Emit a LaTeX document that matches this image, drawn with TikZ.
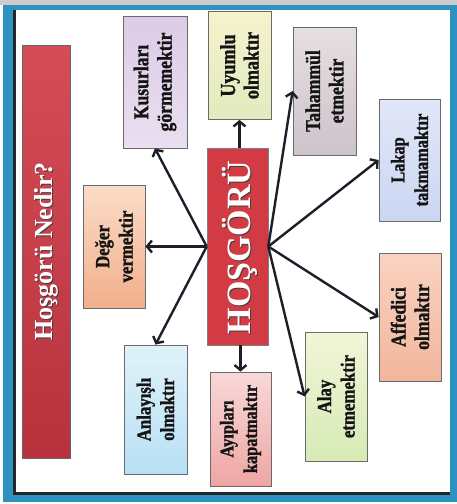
\documentclass[tikz,border=0pt]{standalone}
\usepackage{fontspec}
\setmainfont{Liberation Serif}
\newfontfamily\condfont{Liberation Serif}[FakeStretch=0.84,FakeBold=1.2]
\usetikzlibrary{arrows.meta}
\definecolor{framecol}{HTML}{2E92C0}
\definecolor{arrowcol}{HTML}{1E1E2A}
\definecolor{boxline}{HTML}{6A6A6A}
\definecolor{txtcol}{HTML}{141414}
\definecolor{kusL}{HTML}{DCCBE6}\definecolor{kusR}{HTML}{E9DFF0}
\definecolor{uyuL}{HTML}{F7F2CC}\definecolor{uyuR}{HTML}{E0EBBE}
\definecolor{tahL}{HTML}{E6DFE2}\definecolor{tahR}{HTML}{CDC3CB}
\definecolor{lakL}{HTML}{E1E7F7}\definecolor{lakR}{HTML}{CBD6F3}
\definecolor{degL}{HTML}{FBDDC8}\definecolor{degR}{HTML}{F2AE8C}
\definecolor{affL}{HTML}{F9D3C0}\definecolor{affR}{HTML}{F3B59C}
\definecolor{anlL}{HTML}{E0F2F9}\definecolor{anlR}{HTML}{B7E0F5}
\definecolor{ayiL}{HTML}{F8D8D8}\definecolor{ayiR}{HTML}{EEA6A4}
\definecolor{alaL}{HTML}{F2F5D6}\definecolor{alaR}{HTML}{D6EBB6}
\definecolor{redL}{HTML}{D44C56}\definecolor{redR}{HTML}{B8323E}
\definecolor{hosred}{HTML}{D23A44}
\definecolor{shadowcol}{HTML}{4A3A3A}
\newcommand{\boxtxt}[1]{\condfont\fontsize{#1}{23.5}\selectfont\bfseries}
\begin{document}
\begin{tikzpicture}[x=1pt,y=-1pt,
  box/.style={draw=boxline, line width=0.8pt, rotate=90, inner sep=0pt,
    align=center, text=txtcol},
  arr/.style={-{Straight Barb[length=5pt,width=12pt]}, line width=2.4pt, draw=arrowcol},
  whitetxt/.style={rotate=90, inner sep=0pt, text=white},
  shadowtxt/.style={rotate=90, inner sep=0pt, text=shadowcol}]
\useasboundingbox (0,0) rectangle (457,504);
% background and frame
\fill[white] (0,0) rectangle (457,504);
\fill[black!20] (0,0) rectangle (457,5);
\fill[framecol] (3,5) rectangle (457,502);
\fill[white] (16,10) rectangle (450,492);
\fill[black!85] (13,10) rectangle (16,495);
\fill[black!85] (13,492) rectangle (450,495);
% title
\node[draw=black!60, line width=0.6pt, rotate=90, top color=redL, bottom color=redR,
  minimum width=413pt, minimum height=48pt] (title) at (46,251.5) {};
\node[shadowtxt, font=\fontsize{26}{30}\selectfont\bfseries] (titleS) at (47,252.5) {Hoşgörü Nedir?};
\node[whitetxt, font=\fontsize{26}{30}\selectfont\bfseries] (titleT) at (46,251.5) {Hoşgörü Nedir?};
% centre
\node[draw=black!50, line width=0.6pt, rotate=90, fill=hosred,
  minimum width=197pt, minimum height=61pt] (hos) at (237.5,246.5) {};
\node[shadowtxt, font=\fontsize{34}{40}\selectfont\bfseries] (hosS) at (240.5,248.5) {HOŞGÖRÜ};
\node[whitetxt, font=\fontsize{34}{40}\selectfont\bfseries] (hosT) at (239.5,247.5) {HOŞGÖRÜ};
% boxes
\node[box, font=\boxtxt{21}, top color=kusL, bottom color=kusR, minimum width=132pt, minimum height=64pt] (kus) at (155,82) {Kusurları\\görmemektir};
\node[box, font=\boxtxt{21.5}, top color=uyuL, bottom color=uyuR, minimum width=108pt, minimum height=63pt] (uyu) at (239.5,65.5) {Uyumlu\\olmaktır};
\node[box, font=\boxtxt{21}, top color=tahL, bottom color=tahR, minimum width=128pt, minimum height=63pt] (tah) at (324.5,91) {Tahammül\\etmektir};
\node[box, font=\boxtxt{19.5}, top color=lakL, bottom color=lakR, minimum width=122pt, minimum height=61pt] (lak) at (409.5,160) {Lakap\\takmamaktır};
\node[box, font=\boxtxt{20}, top color=degL, bottom color=degR, minimum width=123pt, minimum height=62pt] (deg) at (114,246.5) {Değer\\vermektir};
\node[box, font=\boxtxt{21}, top color=affL, bottom color=affR, minimum width=128pt, minimum height=62pt] (aff) at (410,317) {Affedici\\olmaktır};
\node[box, font=\boxtxt{20}, top color=anlL, bottom color=anlR, minimum width=129pt, minimum height=63pt] (anl) at (155.5,409.5) {Anlayışlı\\olmaktır};
\node[box, font=\boxtxt{19.5}, top color=ayiL, bottom color=ayiR, minimum width=114pt, minimum height=61pt] (ayi) at (240.5,429) {Ayıpları\\kapatmaktır};
\node[box, font=\boxtxt{20}, top color=alaL, bottom color=alaR, minimum width=129pt, minimum height=62pt] (ala) at (336,396.5) {Alay\\etmemektir};
% arrows
\draw[arr] (hos.north) -- (kus.west);
\draw[arr] (hos.north) -- (deg.south);
\draw[arr] (hos.north) -- (anl.east);
\draw[arr] (uyu.west |- hos.east) -- (uyu.west);
\draw[arr] (ayi.east |- hos.west) -- (ayi.east);
\draw[arr] (hos.south) -- (tah.north);
\draw[arr] (hos.south) -- (lak.north);
\draw[arr] (hos.south) -- (aff.north);
\draw[arr] (hos.south) -- (ala.north);
\end{tikzpicture}
\end{document}
